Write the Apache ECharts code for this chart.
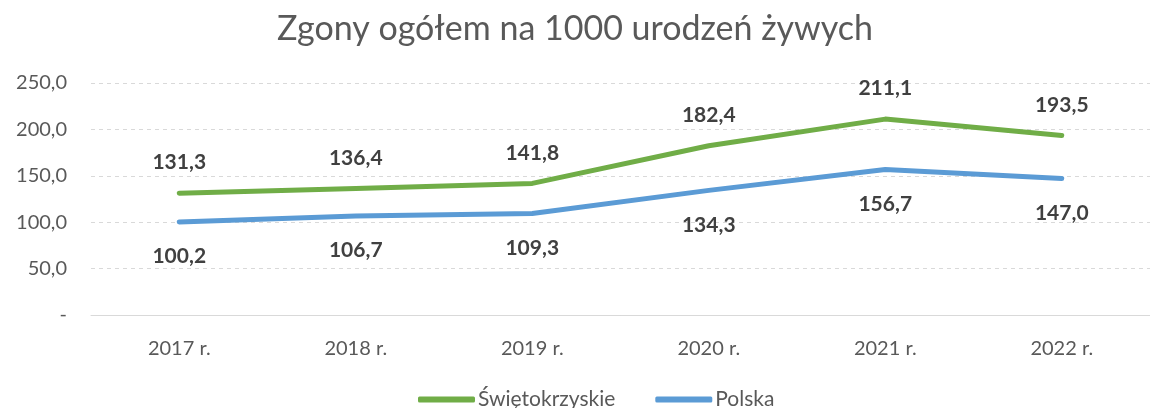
<!DOCTYPE html>
<html>
<head>
<meta charset="utf-8">
<script src="https://cdn.jsdelivr.net/npm/echarts@6/dist/echarts.min.js"></script>
<style>
  html, body { margin: 0; padding: 0; background: #fff; }
  #chart { width: 1150px; height: 408px; }
</style>
</head>
<body>
<div id="chart"></div>
<script>
var years = ['2017 r.', '2018 r.', '2019 r.', '2020 r.', '2021 r.', '2022 r.'];
var swietokrzyskie = [131.3, 136.4, 141.8, 182.4, 211.1, 193.5];
var polska = [100.2, 106.7, 109.3, 134.3, 156.7, 147.0];
var seriesNames = ['Świętokrzyskie', 'Polska'];

var font = 'Lato, "Open Sans", sans-serif';

function fmt(v){
    return v === 0 ? '-' : v.toFixed(1).replace('.', ',');
}

var chart = echarts.init(document.getElementById('chart'));
var option = {
    animation: false,
    title: {
        text: 'Zgony ogółem na 1000 urodzeń żywych',
        left: 'center',
        top: 7,
        textStyle: { fontFamily: font, fontSize: 34, fontWeight: 'normal', color: '#595959' }
    },
    legend: {
        bottom: -7,
        left: 413,
        itemWidth: 57,
        itemHeight: 6,
        itemGap: 40,
        icon: 'roundRect',
        textStyle: { fontFamily: font, fontSize: 21, color: '#595959', padding: [0, 0, 0, -2] },
        data: seriesNames
    },
    grid: { left: 91, right: -9, top: 83, bottom: 93 },
    xAxis: {
        type: 'category',
        data: years,
        axisLine: { lineStyle: { color: '#d9d9d9', width: 1 } },
        axisTick: { show: false },
        axisLabel: { fontFamily: font, fontSize: 20, color: '#595959', margin: 24 }
    },
    yAxis: {
        type: 'value',
        min: 0,
        max: 250,
        interval: 50,
        axisLine: { show: false },
        axisTick: { show: false },
        axisLabel: { fontFamily: font, fontSize: 20, color: '#595959', margin: 24, formatter: fmt },
        splitLine: { lineStyle: { color: '#d9d9d9', type: [4, 4], width: 1 } }
    },
    series: [{
        name: seriesNames[0],
        type: 'line',
        data: swietokrzyskie,
        symbol: 'circle',
        symbolSize: 0,
        color: '#70ad47',
        lineStyle: { width: 5, cap: 'round', join: 'round' },
        label: {
            show: true, position: 'top', distance: 20,
            fontFamily: font, fontSize: 21, fontWeight: 'bold', color: '#404040',
            formatter: function(p){ return fmt(p.value); }
        }
    }, {
        name: seriesNames[1],
        type: 'line',
        data: polska,
        symbol: 'circle',
        symbolSize: 0,
        color: '#5b9bd5',
        lineStyle: { width: 5, cap: 'round', join: 'round' },
        label: {
            show: true, position: 'bottom', distance: 24,
            fontFamily: font, fontSize: 21, fontWeight: 'bold', color: '#404040',
            formatter: function(p){ return fmt(p.value); }
        }
    }]
};
chart.setOption(option);
</script>
</body>
</html>
